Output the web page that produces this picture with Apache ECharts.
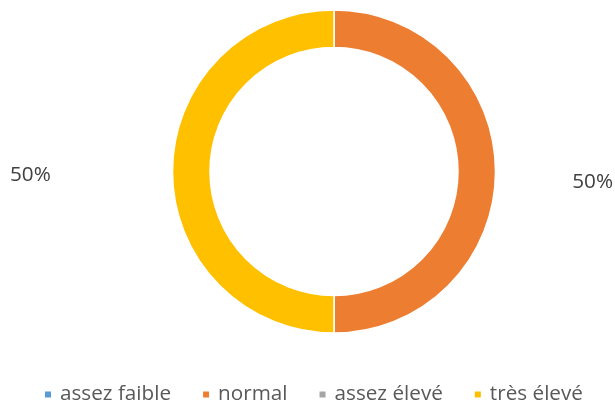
<!DOCTYPE html>
<html><head><meta charset="utf-8">
<script src="https://cdn.jsdelivr.net/npm/echarts@6/dist/echarts.min.js"></script>
<style>html,body{margin:0;padding:0;background:#fff}#c{width:615px;height:403px}</style>
</head><body><div id="c"></div>
<script>
const categories = ['assez faible', 'normal', 'assez élevé', 'très élevé'];
const values = [0, 50, 0, 50];
const colors = ['#5B9BD5', '#ED7D31', '#A5A5A5', '#FFC000'];
const labelSpots = {1: {x: 613, y: 182.5, align: 'right'}, 3: {x: 10, y: 175, align: 'left'}};

const chart = echarts.init(document.getElementById('c'));
chart.setOption({
  animation: false,
  color: colors,
  legend: {
    data: categories,
    top: 384,
    left: 43,
    padding: 0,
    itemWidth: 8,
    itemHeight: 8,
    itemGap: 30,
    icon: 'rect',
    textStyle: {fontFamily: 'Open Sans', fontSize: 20.7, color: '#595959', padding: [0, 0, 0, 3]}
  },
  series: [{
    type: 'pie',
    center: [334, 171.5],
    radius: [124, 161.5],
    startAngle: 90,
    clockwise: true,
    avoidLabelOverlap: false,
    itemStyle: {borderColor: '#fff', borderWidth: 1.5},
    label: {
      show: true,
      formatter: '{d}%',
      fontFamily: 'Open Sans',
      fontSize: 20.7,
      color: '#404040'
    },
    labelLine: {show: false},
    labelLayout: function (p) {
      const s = labelSpots[p.dataIndex];
      if (!s) return {};
      return {x: s.x, y: s.y, align: s.align, verticalAlign: 'middle'};
    },
    data: categories.map((n, i) => ({
      name: n,
      value: values[i],
      label: {show: values[i] > 0}
    }))
  }]
});
</script></body></html>
